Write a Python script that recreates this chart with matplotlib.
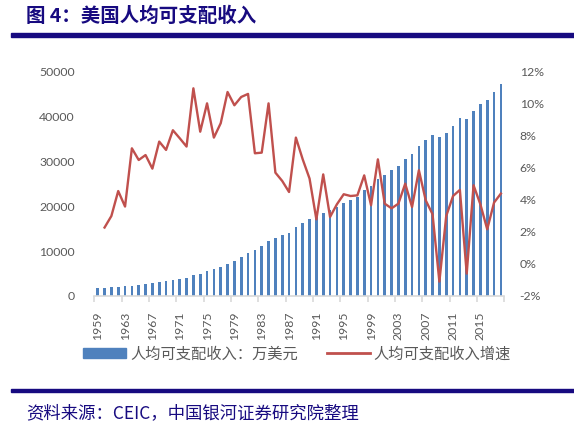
import numpy as np
import matplotlib
matplotlib.use("Agg")
import matplotlib.pyplot as plt
from matplotlib.patches import Rectangle, Patch
from matplotlib.lines import Line2D

plt.rcParams['font.family'] = ['Noto Sans CJK SC', 'DejaVu Sans']

# data
years = list(range(1959, 2019))
income = [1860, 1860, 1940, 2080, 2160, 2300, 2460, 2680, 2830, 3060,
          3280, 3570, 3870, 4090, 4620, 4980, 5510, 5960, 6470, 7140,
          7810, 8700, 9600, 10270, 11090, 12200, 12950, 13540, 14140, 15330,
          16290, 17190, 17710, 18530, 19120, 19940, 20680, 21500, 22100, 23590,
          24550, 26190, 27080, 28130, 29020, 30510, 31620, 33410, 34820, 35860,
          35420, 36460, 38020, 39660, 39430, 41370, 42860, 43750, 45460, 47400]
growth_years = list(range(1960, 2019))
growth = [2.28, 3.0, 4.56, 3.59, 7.23, 6.5, 6.81, 5.96, 7.65, 7.13,
          8.36, 7.86, 7.34, 10.98, 8.27, 10.04, 7.9, 8.8, 10.75, 9.92,
          10.44, 10.63, 6.92, 6.96, 10.04, 5.71, 5.19, 4.5, 7.9, 6.54,
          5.34, 2.79, 5.6, 2.94, 3.73, 4.36, 4.25, 4.29, 5.54, 3.67,
          6.54, 3.77, 3.48, 3.77, 5.02, 3.56, 5.86, 3.98, 3.11, -1.1,
          3.0, 4.25, 4.63, -0.6, 4.92, 3.73, 2.17, 3.84, 4.4]
label_bar = "人均可支配收入：万美元"
label_line = "人均可支配收入增速"

navy = '#170A80'
grey = '#595959'
bar_c = '#4F81BD'
line_c = '#C0504D'

fig = plt.figure(figsize=(5.74, 4.22), dpi=100)
ax = fig.add_axes([94.3/574, 1-296/422, 410/574, 224/422])

x = np.arange(len(years))
ax.bar(x, income, width=0.38, color=bar_c, zorder=2)
ax.set_xlim(-0.5, len(years) - 0.5)
ax.set_ylim(0, 50000)
ax.set_yticks(range(0, 50001, 10000))

ax2 = ax.twinx()
gx = [years.index(y) for y in growth_years]
ax2.plot(gx, growth, color=line_c, lw=1.7, zorder=3)
ax2.set_ylim(-2, 12)
ax2.set_yticks(range(-2, 13, 2))
ax2.set_yticklabels([f"{v}%" for v in range(-2, 13, 2)])

for a in (ax, ax2):
    for s in a.spines.values():
        s.set_visible(False)
ax.spines['bottom'].set_visible(True)
ax.spines['bottom'].set_color('#D9D9D9')
ax.spines['bottom'].set_linewidth(1.2)

ax.tick_params(axis='y', length=0, pad=14, labelsize=8.8, labelcolor=grey)
ax2.tick_params(axis='y', length=0, pad=11, labelsize=8.8, labelcolor=grey)
for t in ax.get_yticklabels() + ax2.get_yticklabels():
    t.set_fontfamily('Lato')

# year labels at every 4th category, tick marks on category boundaries
ax.set_xticks(x[::4])
ax.set_xticklabels([str(y) for y in years[::4]], rotation=90, fontfamily='Lato')
ax.set_xticks(np.arange(-0.5, len(years), 4), minor=True)
ax.tick_params(axis='x', which='major', length=0, pad=11, labelsize=8.8, labelcolor=grey)
ax.tick_params(axis='x', which='minor', length=4, width=1.2, color='#D9D9D9')

handles = [Patch(color=bar_c), Line2D([], [], color=line_c, lw=2)]
fig.legend(handles, [label_bar, label_line], loc='center', ncol=2,
           bbox_to_anchor=(297/574, 1-354/422), frameon=False,
           fontsize=11, handlelength=2.8, handleheight=0.6,
           handletextpad=0.25, columnspacing=1.9, labelcolor=grey)

fig.text(25.7/574, 1-16/422, "图 4：美国人均可支配收入", fontsize=14,
         fontweight='bold', color=navy, va='center', ha='left')
fig.patches.append(Rectangle((11/574, 1-37/422), 1, 4/422,
                             transform=fig.transFigure, color=navy))
fig.patches.append(Rectangle((11/574, 1-392/422), 1, 3.5/422,
                             transform=fig.transFigure, color=navy))
fig.text(25.7/574, 1-413/422, "资料来源：CEIC，中国银河证券研究院整理",
         fontsize=12.5, color=navy, va='center', ha='left')

fig.savefig("out.png", dpi=100)
